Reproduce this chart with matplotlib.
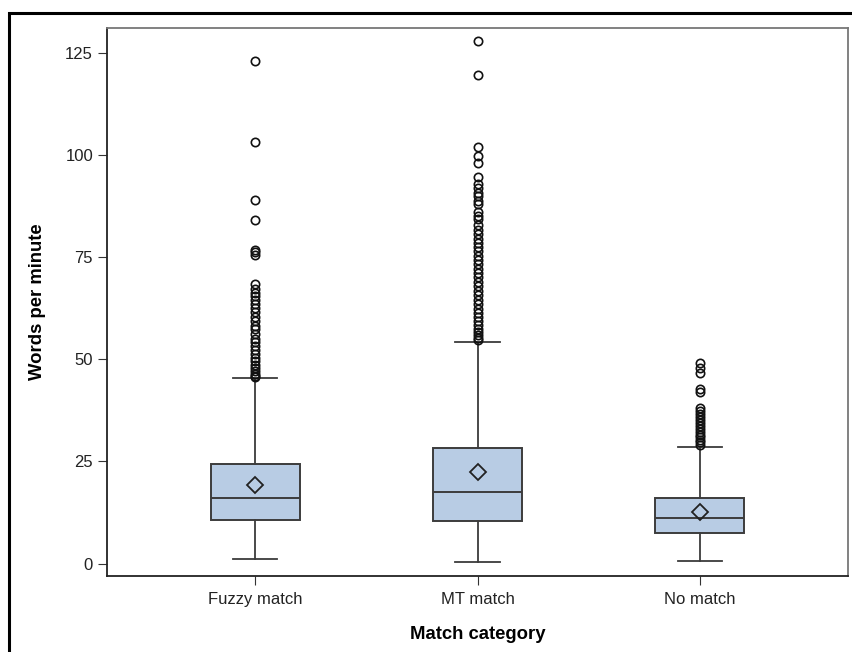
import matplotlib
matplotlib.use("Agg")
import matplotlib.pyplot as plt
from matplotlib.patches import Rectangle

plt.rcParams['font.family'] = ['Liberation Sans', 'DejaVu Sans']

# box statistics
categories = ['Fuzzy match', 'MT match', 'No match']
whislo = [1.1, 0.5, 0.7]
q1 = [10.8, 10.5, 7.5]
med = [16.0, 17.6, 11.2]
q3 = [24.5, 28.4, 16.1]
whishi = [45.3, 54.1, 28.5]
means = [19.3, 22.5, 12.6]

# outliers
fuzzy_out = [123.0, 103.1, 89.0, 84.1, 76.8, 76.2, 75.5,
             68.4, 67.2, 66.3, 65.5, 64.5, 63.6, 62.5, 61.5, 60.4, 59.3, 58.2,
             57.3, 56.2, 55.0, 54.1, 53.2, 52.2, 51.2, 50.3, 49.6, 48.6, 47.8,
             47.1, 46.5, 46.0, 45.6]
mt_out = [127.9, 119.5, 101.8, 99.8, 97.9, 94.5, 92.9, 91.8, 90.7, 89.9, 88.8,
          87.9, 86.0, 85.0, 84.2, 82.9, 81.7, 80.6, 79.4, 78.4, 77.5, 76.5,
          75.3, 74.2, 73.2, 72.1, 71.2, 70.1, 69.0, 67.9, 66.8, 65.7, 64.6,
          63.5, 62.4, 61.3, 60.3, 59.3, 58.3, 57.5, 56.7, 56.0, 55.3, 54.7]
no_out = [49.0, 47.8, 46.6, 42.7, 42.1, 38.1, 37.3, 36.6, 35.9, 35.2, 34.5,
          33.8, 33.0, 32.3, 31.6, 30.9, 30.3, 29.7, 29.1]
outliers = [fuzzy_out, mt_out, no_out]

stats = []
for i in range(len(categories)):
    stats.append({'label': categories[i], 'whislo': whislo[i], 'q1': q1[i],
                  'med': med[i], 'q3': q3[i], 'whishi': whishi[i],
                  'mean': means[i], 'fliers': outliers[i]})

fig = plt.figure(figsize=(8.52, 6.52), dpi=100)
ax = fig.add_axes([107 / 852, 1 - 576 / 652, (848 - 107) / 852, (576 - 28) / 652])

edge = '#3c3c3c'
ax.bxp(stats, positions=[1, 2, 3], widths=0.4, patch_artist=True,
       showmeans=True, showfliers=True,
       boxprops=dict(facecolor='#b8cce4', edgecolor=edge, linewidth=1.4),
       medianprops=dict(color=edge, linewidth=1.4),
       whiskerprops=dict(color=edge, linewidth=1.3),
       capprops=dict(color=edge, linewidth=1.3),
       capwidths=0.2,
       meanprops=dict(marker='D', markerfacecolor='none', markeredgecolor='#222222',
                      markersize=8.5, markeredgewidth=1.3),
       flierprops=dict(marker='o', markerfacecolor='none', markeredgecolor='#111111',
                       markersize=6, markeredgewidth=1.2))

ax.set_xlim(1 / 3, 11 / 3)
ax.set_ylim(-3, 131)
ax.set_yticks([0, 25, 50, 75, 100, 125])
ax.set_xticks([1, 2, 3])
ax.set_xticklabels(categories)
ax.tick_params(axis='both', labelsize=12, color='#333333', length=6.5,
               labelcolor='#222222')
ax.tick_params(axis='y', pad=3.5)
ax.tick_params(axis='x', pad=5)
ax.set_xlabel('Match category', fontsize=13.3, fontweight='bold', labelpad=14)
ax.set_ylabel('Words per minute', fontsize=13.3, fontweight='bold', labelpad=14)

for s in ['left', 'bottom']:
    ax.spines[s].set_color('#222222')
    ax.spines[s].set_linewidth(1.3)
for s in ['top', 'right']:
    ax.spines[s].set_color('#777777')
    ax.spines[s].set_linewidth(1.3)

# outer black frame (runs off the right and bottom edges)
fig.patches.append(Rectangle((9 / 852, -0.05), 1.1, 1 - 12.5 / 652 + 0.05,
                             transform=fig.transFigure, fill=False,
                             edgecolor='black', linewidth=2.2))

fig.savefig('out.png', dpi=100)
